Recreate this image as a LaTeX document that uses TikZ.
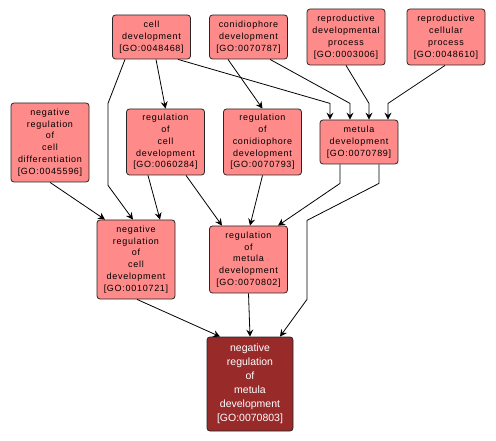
\documentclass[tikz,border=0pt]{standalone}
\usepackage{fontspec}
\usetikzlibrary{arrows, arrows.meta, positioning}
\newfontfamily\gofont[LetterSpace=8]{Liberation Sans}
\newfontfamily\gofontbig{Liberation Sans}
\definecolor{gofill}{RGB}{255,138,138}
\definecolor{godark}{RGB}{152,42,42}

\tikzset{
  term/.style={draw=black!85, line width=0.8pt, fill=gofill, rounded corners=3pt,
    align=center, inner sep=0pt, minimum width=78pt,
    font=\gofont\fontsize{9}{11.8}\selectfont},
  focus/.style={term, fill=godark, text=white, minimum width=86pt,
    font=\gofontbig\fontsize{10.5}{14}\selectfont},
}

\begin{document}
\begin{tikzpicture}[x=1pt,y=-1pt,>={Stealth[length=7pt,width=7pt,inset=2.5pt]},line width=0.8pt]
    \useasboundingbox (0,0) rectangle (496,441);

    \node[term, minimum height=44pt] (0) at (151.5,37) {cell\\development\\{}[GO:0048468]};
    \node[term, minimum height=44pt] (1) at (248.5,37) {conidiophore\\development\\{}[GO:0070787]};
    \node[term, minimum height=56pt] (2) at (346,37) {reproductive\\developmental\\process\\{}[GO:0003006]};
    \node[term, minimum height=56pt] (3) at (446,37) {reproductive\\cellular\\process\\{}[GO:0048610]};
    \node[term, minimum height=79pt] (4) at (50,142.5) {negative\\regulation\\of\\cell\\differentiation\\{}[GO:0045596]};
    \node[term, minimum height=66pt] (5) at (165.5,142) {regulation\\of\\cell\\development\\{}[GO:0060284]};
    \node[term, minimum height=66pt] (6) at (262.5,142) {regulation\\of\\conidiophore\\development\\{}[GO:0070793]};
    \node[term, minimum height=44pt] (7) at (359,142) {metula\\development\\{}[GO:0070789]};
    \node[term, minimum height=79pt] (8) at (136,259.5) {negative\\regulation\\of\\cell\\development\\{}[GO:0010721]};
    \node[term, minimum height=67pt] (9) at (248.5,259.5) {regulation\\of\\metula\\development\\{}[GO:0070802]};
    \node[focus, minimum height=94pt] (10) at (250,384) {negative\\regulation\\of\\metula\\development\\{}[GO:0070803]};

    \draw[->] ([xshift=-26.5pt]0.south) -- ++(-17,44) -- ++(0,82) -- ([xshift=-3pt]8.north);
    \draw[->] ([xshift=4.5pt]0.south) -- (5.north);
    \draw[->] ([xshift=26.5pt]0.south) -- ++(152,44) -- ([xshift=-29pt]7.north);
    \draw[->] ([xshift=-20.5pt]1.south) -- (6.north);
    \draw[->] ([xshift=21.5pt]1.south) -- ++(80,44) -- ([xshift=-9pt]7.north);
    \draw[->] (2.south) -- ++(23,38) -- ([xshift=10pt]7.north);
    \draw[->] ([xshift=-1pt]3.south) -- ++(-57,38) -- ([xshift=29pt]7.north);
    \draw[->] (4.south) -- ([xshift=-31pt]8.north);
    \draw[->] ([xshift=-17.5pt]5.south) -- ([xshift=24pt]8.north);
    \draw[->] ([xshift=20.5pt]5.south) -- ([xshift=-26.5pt]9.north);
    \draw[->] (6.south) -- ([xshift=1.5pt]9.north);
    \draw[->] ([xshift=-19pt]7.south) -- ++(0,19) -- ([xshift=29.5pt]9.north);
    \draw[->] ([xshift=20pt]7.south) -- ++(0,19) -- ++(-72,37) -- ++(0,79) -- ([xshift=30pt]10.north);
    \draw[->] ([xshift=1pt]8.south) -- ([xshift=-30pt]10.north);
    \draw[->] (9.south) -- (10.north);
\end{tikzpicture}
\end{document}
